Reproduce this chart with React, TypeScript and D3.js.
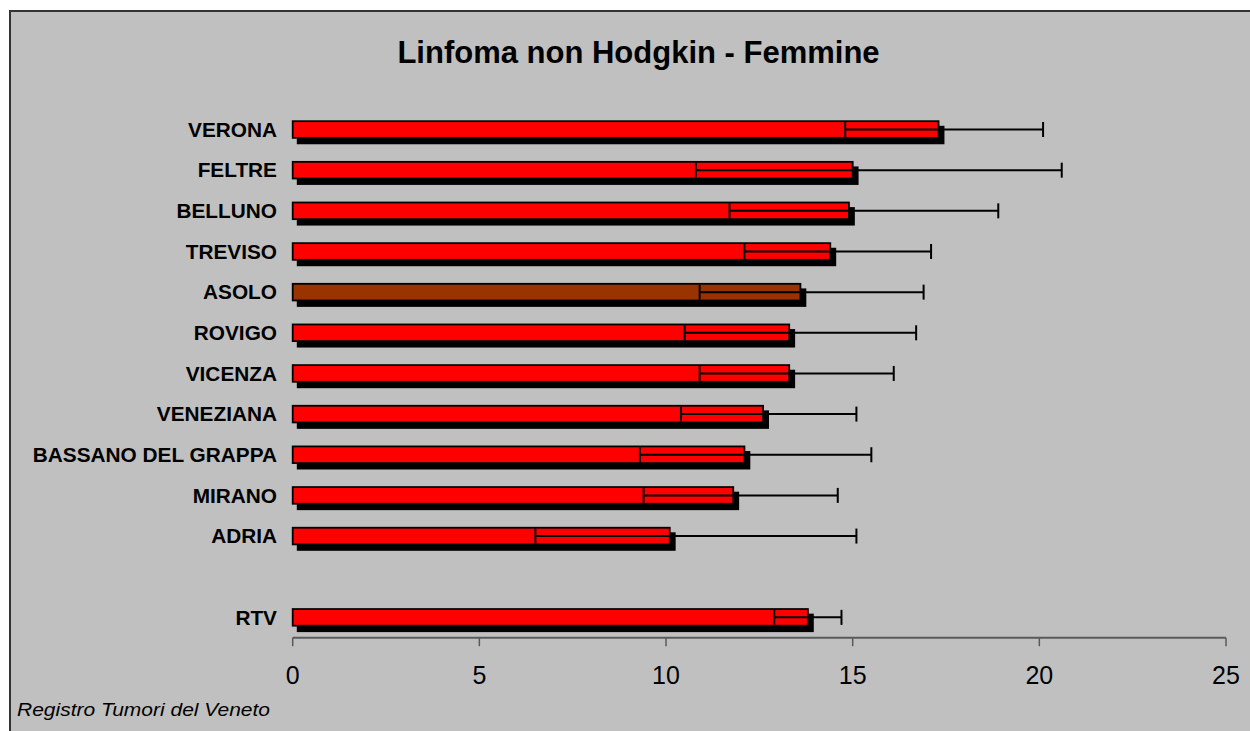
import React from "react";
import * as d3 from "d3";

const categories = [
  "VERONA",
  "FELTRE",
  "BELLUNO",
  "TREVISO",
  "ASOLO",
  "ROVIGO",
  "VICENZA",
  "VENEZIANA",
  "BASSANO DEL GRAPPA",
  "MIRANO",
  "ADRIA",
  "",
  "RTV",
];
const rates = [17.3, 15.0, 14.9, 14.4, 13.6, 13.3, 13.3, 12.6, 12.1, 11.8, 10.1, null, 13.8];
const lower = [14.8, 10.8, 11.7, 12.1, 10.9, 10.5, 10.9, 10.4, 9.3, 9.4, 6.5, null, 12.9];
const upper = [20.1, 20.6, 18.9, 17.1, 16.9, 16.7, 16.1, 15.1, 15.5, 14.6, 15.1, null, 14.7];
const highlighted = ["ASOLO"];
const xTicks = [0, 5, 10, 15, 20, 25];

const title = "Linfoma non Hodgkin - Femmine";
const footer = "Registro Tumori del Veneto";

const W = 1250;
const H = 731;
const FONT = "'Liberation Sans', Arial, Helvetica, sans-serif";

export default function App() {
  const slotKeys = categories.map((c, i) => (c === "" ? `__gap${i}` : c));
  const x = d3.scaleLinear().domain([0, 25]).range([292.7, 1226]);
  const y = d3
    .scaleBand<string>()
    .domain(slotKeys)
    .range([109.2, 637.7])
    .paddingInner(0.59)
    .paddingOuter(0.295);
  const bw = y.bandwidth();
  const axisY = 637.7;
  const capH = 15;
  const sdx = 5;
  const sdy = 5.5;

  return (
    <svg
      width={W}
      height={H}
      style={{ position: "absolute", left: 0, top: 0, background: "#ffffff" }}
      xmlns="http://www.w3.org/2000/svg"
    >
      <rect x={0} y={0} width={W} height={H} fill="#ffffff" />
      <rect x={10} y={11} width={W + 20} height={H + 20} fill="#c0c0c0" stroke="#333333" strokeWidth={2} />

      <text
        x={638.5}
        y={63}
        textAnchor="middle"
        fontFamily={FONT}
        fontWeight="bold"
        fontSize={31}
        fill="#000"
      >
        {title}
      </text>

      {/* category labels */}
      {categories.map((c, i) =>
        c === "" ? null : (
          <text
            key={"lbl" + i}
            x={277}
            y={(y(slotKeys[i]) as number) + bw / 2 + 7.3}
            textAnchor="end"
            fontFamily={FONT}
            fontWeight="bold"
            fontSize={20.8}
            fill="#000"
          >
            {c}
          </text>
        )
      )}

      {/* shadows */}
      {categories.map((c, i) => {
        const v = rates[i];
        if (v == null) return null;
        const y0 = y(slotKeys[i]) as number;
        return (
          <rect
            key={"sh" + i}
            x={x(0) + sdx - 0.9}
            y={y0 + sdy - 0.9}
            width={x(v) - x(0) + 1.8}
            height={bw + 1.8}
            fill="#000"
          />
        );
      })}

      {/* bars */}
      {categories.map((c, i) => {
        const v = rates[i];
        if (v == null) return null;
        const y0 = y(slotKeys[i]) as number;
        return (
          <rect
            key={"bar" + i}
            x={x(0)}
            y={y0}
            width={x(v) - x(0)}
            height={bw}
            fill={highlighted.includes(c) ? "#993300" : "#ff0000"}
            stroke="#000"
            strokeWidth={1.8}
          />
        );
      })}

      {/* error bars */}
      {categories.map((c, i) => {
        const lo = lower[i];
        const hi = upper[i];
        if (lo == null || hi == null) return null;
        const cy = (y(slotKeys[i]) as number) + bw / 2;
        return (
          <g key={"err" + i} stroke="#000" strokeWidth={2}>
            <line x1={x(lo)} x2={x(hi)} y1={cy} y2={cy} />
            <line x1={x(lo)} x2={x(lo)} y1={cy - capH / 2} y2={cy + capH / 2} />
            <line x1={x(hi)} x2={x(hi)} y1={cy - capH / 2} y2={cy + capH / 2} />
          </g>
        );
      })}

      {/* x axis */}
      <line x1={x(0)} x2={x(25)} y1={axisY} y2={axisY} stroke="#5a5a5a" strokeWidth={2} />
      {xTicks.map((t) => (
        <g key={"t" + t}>
          <line x1={x(t)} x2={x(t)} y1={axisY} y2={axisY + 8.5} stroke="#5a5a5a" strokeWidth={1.5} />
          <text
            x={x(t)}
            y={684}
            textAnchor="middle"
            fontFamily={FONT}
            fontSize={25}
            fill="#000"
          >
            {t}
          </text>
        </g>
      ))}

      <text
        x={17}
        y={716}
        fontFamily={FONT}
        fontStyle="italic"
        fontSize={18.5}
        textLength={253}
        lengthAdjust="spacingAndGlyphs"
        fill="#000"
      >
        {footer}
      </text>
    </svg>
  );
}
